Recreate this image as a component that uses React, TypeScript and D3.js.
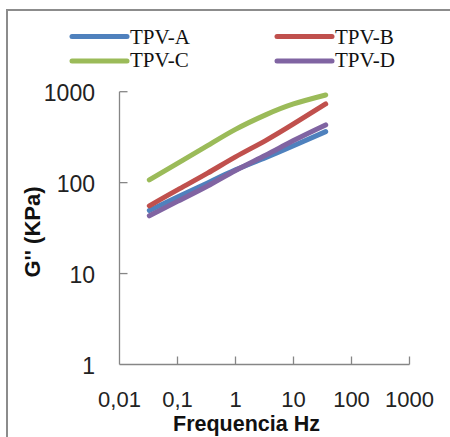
import React from "react";
import * as d3 from "d3";

const frequencies = [0.0327, 0.1, 0.33, 1, 3.3, 10, 35.9];
const seriesNames = ["TPV-A", "TPV-B", "TPV-C", "TPV-D"];
const tpvA = [49.4, 69.5, 99.3, 138, 188, 254, 364];
const tpvB = [55.6, 83.2, 127, 192, 290, 442, 733];
const tpvC = [107, 163, 255, 385, 556, 733, 920];
const tpvD = [43.2, 62.2, 91.8, 136, 200, 290, 431];
const seriesColors = ["#4F81BD", "#C0504D", "#9BBB59", "#8064A2"];
const xTicks = [0.01, 0.1, 1, 10, 100, 1000];
const xTickLabels = ["0,01", "0,1", "1", "10", "100", "1000"];
const yTicks = [1, 10, 100, 1000];
const yTickLabels = ["1", "10", "100", "1000"];

export default function App() {
  const W = 450, H = 437;
  const x = d3.scaleLog().domain([0.01, 1000]).range([119.5, 409.5]);
  const y = d3.scaleLog().domain([1, 1000]).range([364.5, 91.7]);
  const all = [tpvA, tpvB, tpvC, tpvD];
  const line = d3
    .line<[number, number]>()
    .x((d) => x(d[0]))
    .y((d) => y(d[1]))
    .curve(d3.curveNatural);
  const axisColor = "#868686";
  const sans = "'Liberation Sans', Arial, sans-serif";
  const legendPos = [
    { lx: 72, ly: 36.5, tb: 44 },
    { lx: 277, ly: 36.5, tb: 44 },
    { lx: 72, ly: 61, tb: 67 },
    { lx: 277, ly: 61, tb: 67 },
  ];
  return (
    <svg
      width={W}
      height={H}
      style={{ position: "absolute", left: 0, top: 0, background: "#fff" }}
    >
      <rect x={0} y={0} width={W} height={H} fill="#fff" />
      <rect x={7} y={10} width={470} height={460} fill="none" stroke="#8c8c8c" strokeWidth={2} />
      {/* axes */}
      <line x1={x(0.01)} x2={x(0.01)} y1={y(1000)} y2={y(1)} stroke={axisColor} strokeWidth={1.3} />
      <line x1={x(0.01)} x2={x(1000)} y1={y(1)} y2={y(1)} stroke={axisColor} strokeWidth={1.3} />
      {yTicks.slice(1).map((t) => (
        <line key={"yt" + t} x1={x(0.01)} x2={x(0.01) + 8} y1={y(t)} y2={y(t)} stroke={axisColor} strokeWidth={1.3} />
      ))}
      {xTicks.slice(1).map((t) => (
        <line key={"xt" + t} x1={x(t)} x2={x(t)} y1={y(1)} y2={y(1) - 8} stroke={axisColor} strokeWidth={1.3} />
      ))}
      {yTicks.map((t, i) => (
        <text key={"yl" + t} x={95} y={y(t) + 9.5} textAnchor="end" fontFamily={sans} fontSize={23} fill="#222">
          {yTickLabels[i]}
        </text>
      ))}
      {xTicks.map((t, i) => (
        <text key={"xl" + t} x={x(t)} y={407} textAnchor="middle" fontFamily={sans} fontSize={22} fill="#222">
          {xTickLabels[i]}
        </text>
      ))}
      <text x={246.5} y={431} textAnchor="middle" fontFamily={sans} fontSize={21.5} fontWeight="bold" fill="#111">
        Frequencia Hz
      </text>
      <text
        transform="translate(40,232) rotate(-90)"
        textAnchor="middle"
        fontFamily={sans}
        fontSize={22}
        fontWeight="bold"
        fill="#111"
      >
        G'' (KPa)
      </text>
      {/* series */}
      {all.map((vals, i) => (
        <path
          key={seriesNames[i]}
          d={line(frequencies.map((f, j) => [f, vals[j]] as [number, number])) || ""}
          fill="none"
          stroke={seriesColors[i]}
          strokeWidth={5}
          strokeLinecap="round"
          strokeLinejoin="round"
        />
      ))}
      {/* legend */}
      {seriesNames.map((n, i) => (
        <g key={"lg" + n}>
          <line
            x1={legendPos[i].lx}
            x2={legendPos[i].lx + 55}
            y1={legendPos[i].ly}
            y2={legendPos[i].ly}
            stroke={seriesColors[i]}
            strokeWidth={5}
            strokeLinecap="round"
          />
          <text
            x={legendPos[i].lx + 58}
            y={legendPos[i].tb}
            fontFamily="'Liberation Serif', 'Times New Roman', serif"
            fontSize={21}
            fill="#111"
          >
            {n}
          </text>
        </g>
      ))}
    </svg>
  );
}
